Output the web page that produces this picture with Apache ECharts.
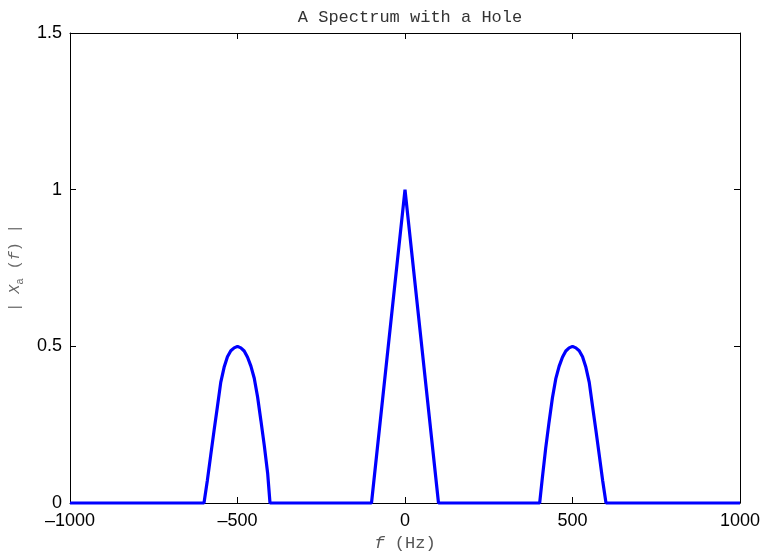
<!DOCTYPE html>
<html>
<head>
<meta charset="utf-8">
<script src="https://cdn.jsdelivr.net/npm/echarts@6/dist/echarts.min.js"></script>
<style>html,body{margin:0;padding:0;background:#fff;}#c{width:766px;height:552px;}</style>
</head>
<body>
<div id="c"></div>
<script>
const titleText = 'A Spectrum with a Hole';
const xTicks = [-1000, -500, 0, 500, 1000];
const yTicks = [0, 0.5, 1, 1.5];
const freq = [
  -1000, -600, -590, -580, -570, -560, -550, -540, -530, -520, -510, -500,
  -490, -480, -470, -460, -450, -440, -430, -420, -410, -403,
  -100, 0, 100,
  402, 410, 420, 430, 440, 450, 460, 470, 480, 490, 500,
  510, 520, 530, 540, 550, 560, 570, 580, 590, 600, 1000
];
const mag = [
  0, 0, 0.072, 0.152, 0.231, 0.307, 0.385, 0.433, 0.467, 0.486, 0.495, 0.5,
  0.495, 0.485, 0.465, 0.437, 0.398, 0.338, 0.262, 0.183, 0.095, 0,
  0, 1, 0,
  0, 0.08, 0.175, 0.258, 0.335, 0.396, 0.436, 0.465, 0.485, 0.495, 0.5,
  0.495, 0.486, 0.467, 0.433, 0.385, 0.307, 0.231, 0.152, 0.072, 0, 0
];

const chart = echarts.init(document.getElementById('c'));
const fmtX = v => String(v).replace('-', '\u2013');
const tickFont = {color: '#000', fontSize: 18, fontFamily: 'Liberation Sans, Arial, sans-serif'};
const axisCommon = {
  axisLine: {show: true, onZero: false, lineStyle: {color: '#000', width: 1}},
  axisTick: {show: true, inside: true, length: 6, lineStyle: {color: '#000'}},
  splitLine: {show: false}
};
chart.setOption({
  animation: false,
  backgroundColor: '#fff',
  title: {
    text: titleText, left: 405, top: 4, textAlign: 'center',
    textStyle: {fontFamily: 'Liberation Mono, Courier New, monospace', fontSize: 17, fontWeight: 'normal', color: '#333'}
  },
  grid: {left: 70, right: 26, top: 33, bottom: 49, containLabel: false, outerBoundsMode: 'none'},
  xAxis: [
    Object.assign({
      type: 'value', min: -1000, max: 1000, interval: 500, position: 'bottom',
      axisLabel: Object.assign({margin: 9, formatter: fmtX}, tickFont),
      name: '{i|f}{n| (Hz)}', nameLocation: 'middle', nameGap: 30,
      nameTextStyle: {
        rich: {
          i: {fontFamily: 'Liberation Mono, monospace', fontStyle: 'italic', fontSize: 17, color: '#555'},
          n: {fontFamily: 'Liberation Mono, monospace', fontSize: 17, color: '#555'}
        }
      }
    }, axisCommon),
    Object.assign({
      type: 'value', min: -1000, max: 1000, interval: 500, position: 'top',
      axisLabel: {show: false}
    }, axisCommon)
  ],
  yAxis: [
    Object.assign({
      type: 'value', min: 0, max: 1.5, interval: 0.5, position: 'left',
      axisLabel: Object.assign({margin: 8, formatter: v => String(v)}, tickFont),
      name: '{n|| }{i|X}{s|a}{n| (}{i|f}{n|) |}', nameLocation: 'middle', nameGap: 42, nameRotate: 90,
      nameTextStyle: {
        rich: {
          n: {fontFamily: 'Liberation Mono, monospace', fontSize: 15, color: '#666', lineHeight: 22},
          i: {fontFamily: 'Liberation Mono, monospace', fontStyle: 'italic', fontSize: 15, color: '#666', lineHeight: 22},
          s: {fontFamily: 'Liberation Mono, monospace', fontSize: 11, color: '#666', lineHeight: 11, verticalAlign: 'bottom'}
        }
      }
    }, axisCommon),
    Object.assign({
      type: 'value', min: 0, max: 1.5, interval: 0.5, position: 'right',
      axisLabel: {show: false}
    }, axisCommon)
  ],
  series: [{
    type: 'line',
    data: freq.map((f, i) => [f, mag[i]]),
    showSymbol: false,
    lineStyle: {color: '#0000ff', width: 3.2},
    itemStyle: {color: '#0000ff'},
    clip: false
  }]
});
</script>
</body>
</html>
